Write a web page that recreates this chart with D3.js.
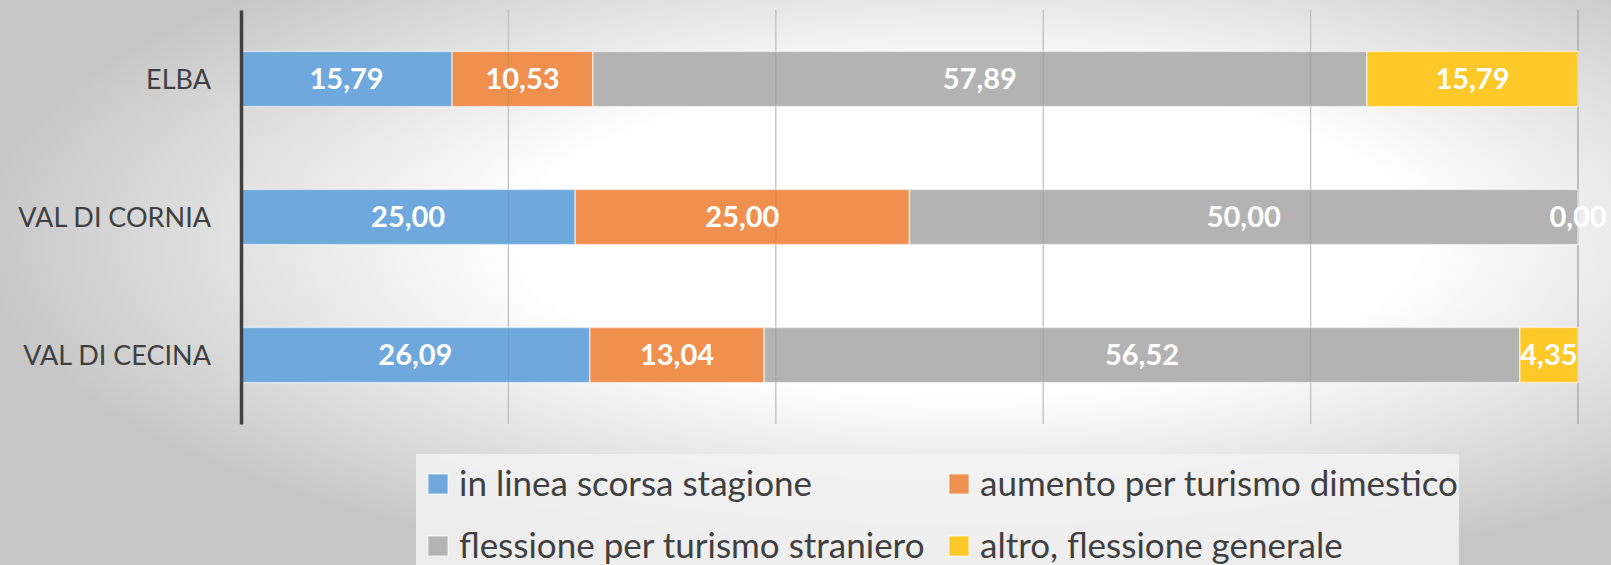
<!DOCTYPE html>
<html>
<head>
<meta charset="utf-8">
<script src="https://cdn.jsdelivr.net/npm/d3@7"></script>
<style>
  body { margin: 0; overflow: hidden; }
  svg { display: block; }
  .cat { font-family: Lato, "Open Sans", sans-serif; font-size: 27px; fill: #404040; }
  .val { font-family: Lato, "Open Sans", sans-serif; font-size: 29px; font-weight: bold; fill: #fff; }
  .leg { font-family: Lato, "Open Sans", sans-serif; font-size: 35px; fill: #404040; }
</style>
</head>
<body>
<svg width="1611" height="565"></svg>
<script>

var categories = ["ELBA", "VAL DI CORNIA", "VAL DI CECINA"];
var seriesNames = ["in linea scorsa stagione", "aumento per turismo dimestico", "flessione per turismo straniero", "altro, flessione generale"];
var inLinea    = [15.79, 25.00, 26.09];
var aumento    = [10.53, 25.00, 13.04];
var flessione  = [57.89, 50.00, 56.52];
var altro      = [15.79,  0.00,  4.35];
var gridTicks  = [20, 40, 60, 80, 100];

var colors = ["#6fa8dc", "#f0904f", "#b3b3b3", "#ffc829"];

var svg = d3.select("svg"),
    W = +svg.attr("width"), H = +svg.attr("height"),
    margin = {top: 10, right: 33, bottom: 141, left: 241},
    width = W - margin.left - margin.right,
    height = H - margin.top - margin.bottom;

// background gradient
var defs = svg.append("defs");
var grad = defs.append("radialGradient")
    .attr("id", "bg")
    .attr("cx", 0.6).attr("cy", 0.42).attr("r", 0.62);
grad.append("stop").attr("offset", 0).attr("stop-color", "#ffffff");
grad.append("stop").attr("offset", 0.45).attr("stop-color", "#ffffff");
grad.append("stop").attr("offset", 1).attr("stop-color", "#c6c6c6");

svg.append("rect").attr("width", W).attr("height", H).attr("fill", "url(#bg)");

var g = svg.append("g").attr("transform", "translate(" + margin.left + "," + margin.top + ")");

var x = d3.scaleLinear().domain([0, 100]).range([0, width]);
var y = d3.scaleBand().domain(categories).range([0, height]).paddingInner(0.6).paddingOuter(0.3);

var rows = categories.map(function(c, i) {
  return {cat: c, v: [inLinea[i], aumento[i], flessione[i], altro[i]]};
});
var stack = d3.stack().keys([0, 1, 2, 3]).value(function(d, k) { return d.v[k]; });
var layers = stack(rows);

// gridlines (behind)
g.append("g").selectAll("line")
  .data(gridTicks)
  .enter().append("line")
    .attr("x1", function(d) { return x(d); })
    .attr("x2", function(d) { return x(d); })
    .attr("y1", 0).attr("y2", height)
    .attr("stroke", function(d) { return d === 100 ? "#a6a6a6" : "#cfcfcf"; })
    .attr("stroke-width", 1.3);

var layer = g.selectAll(".layer")
  .data(layers)
  .enter().append("g")
    .attr("class", "layer")
    .attr("fill", function(d, i) { return colors[i]; });

layer.selectAll("rect")
  .data(function(d) { return d; })
  .enter().append("rect")
    .attr("x", function(d) { return x(d[0]); })
    .attr("width", function(d) { return x(d[1]) - x(d[0]); })
    .attr("y", function(d) { return y(d.data.cat); })
    .attr("height", y.bandwidth())
    .attr("stroke", "rgba(255,255,255,0.55)")
    .attr("stroke-width", 1.5);

// gridlines faintly over bars
g.append("g").selectAll("line")
  .data(gridTicks.filter(function(d) { return d < 100; }))
  .enter().append("line")
    .attr("x1", function(d) { return x(d); })
    .attr("x2", function(d) { return x(d); })
    .attr("y1", 0).attr("y2", height)
    .attr("stroke", "rgba(0,0,0,0.07)")
    .attr("stroke-width", 1.3);

// value labels
layer.selectAll("text")
  .data(function(d) { return d; })
  .enter().append("text")
    .attr("class", "val")
    .attr("x", function(d) { return (x(d[0]) + x(d[1])) / 2; })
    .attr("y", function(d) { return y(d.data.cat) + y.bandwidth() / 2; })
    .attr("dy", "0.36em")
    .attr("text-anchor", "middle")
    .text(function(d) { return d3.format(".2f")(d[1] - d[0]).replace(".", ","); });

// category axis
var yAxis = g.append("g").call(d3.axisLeft(y).tickSize(0).tickPadding(30));
yAxis.select(".domain").attr("stroke", "#404040").attr("stroke-width", 3.5);
yAxis.selectAll("text").attr("class", "cat").attr("dy", "0.36em");

// legend
var legend = svg.append("g");
legend.append("rect")
  .attr("x", 416).attr("y", 454).attr("width", 1043).attr("height", 120)
  .attr("fill", "rgba(243,243,243,0.85)");

var legX = [428, 949], legY = [484, 546];
var item = legend.selectAll(".item")
  .data(seriesNames)
  .enter().append("g")
    .attr("class", "item")
    .attr("transform", function(d, i) { return "translate(" + legX[i % 2] + "," + legY[Math.floor(i / 2)] + ")"; });
item.append("rect")
  .attr("x", 0).attr("y", -10).attr("width", 20).attr("height", 20)
  .attr("fill", function(d, i) { return colors[i]; })
  .attr("stroke", "rgba(255,255,255,0.6)").attr("stroke-width", 1.2);
item.append("text")
  .attr("class", "leg")
  .attr("x", 31).attr("dy", "0.34em")
  .text(function(d) { return d; });

</script>
</body>
</html>
